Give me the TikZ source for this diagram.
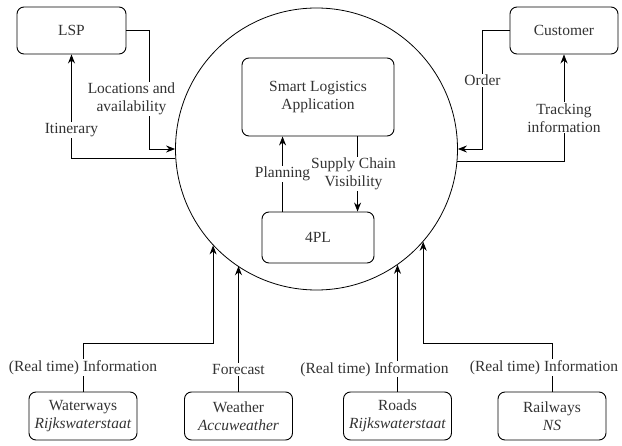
\documentclass[tikz,border=0pt]{standalone}
\usepackage{fontspec}
\setmainfont{Liberation Serif}
\newfontfamily\tnr{Liberation Serif}
\usetikzlibrary{arrows.meta,calc}
\begin{document}
\begin{tikzpicture}[x=1pt,y=-1pt,
  font=\tnr\fontsize{15.5}{18}\selectfont,
  box/.style={draw, rounded corners=7pt, line width=0.9pt, align=center, inner sep=0pt, text=black!80},
  smallbox/.style={box, minimum width=108pt, minimum height=48pt},
  lbl/.style={fill=white, inner sep=1pt, align=center, text=black!80},
  conn/.style={line width=0.9pt},
  arr/.style={conn, -{Stealth[length=9pt,width=7pt]}}]
\useasboundingbox (0,0) rectangle (622,446);

% context circle
\node[draw, circle, minimum size=282pt, inner sep=0pt, line width=0.8pt] (ctx) at (316.5,149) {};

% boxes
\node[box, minimum width=109pt, minimum height=47pt] (lsp) at (71.5,30.5) {LSP};
\node[box, minimum width=108pt, minimum height=47pt] (cust) at (564,30.5) {Customer};
\node[box, minimum width=152pt, minimum height=78pt] (sla) at (318,97) {Smart Logistics\\Application};
\node[box, minimum width=112pt, minimum height=51pt] (fpl) at (318,237.5) {4PL};

\node[smallbox] (ww) at (83,416) {Waterways\\\textit{Rijkswaterstaat}};
\node[smallbox] (we) at (238.5,416) {Weather\\\textit{Accuweather}};
\node[smallbox] (rd) at (397.5,416) {Roads\\\textit{Rijkswaterstaat}};
\node[smallbox] (rw) at (552,416) {Railways\\\textit{NS}};

% LSP connectors
\draw[arr] (lsp.east) -- ++(23,0) |- node[lbl,pos=0.29,xshift=-18pt]{Locations and\\availability} (ctx.west);
\draw[arr] (ctx.184.5) -| node[lbl,pos=0.637]{Itinerary} (lsp.south);

% Customer connectors
\draw[arr] (cust.west) -- ++(-27,0) |- node[lbl,pos=0.21]{Order} (ctx.east);
\draw[arr] (ctx.355.5) -| node[lbl,pos=0.703]{Tracking\\information} (cust.south);

% inner connectors
\coordinate (pA) at ($(fpl.north west)+(21,0)$);
\draw[arr] (pA) -- node[lbl]{Planning} (pA |- sla.south);
\coordinate (sA) at ($(sla.south west)+(116,0)$);
\draw[arr] (sA) -- node[lbl,xshift=-4pt]{Supply Chain\\Visibility} (sA |- fpl.north);

% bottom connectors
\draw[arr] (ww.north) -- node[lbl]{(Real time) Information} ++(0,-48) -| (ctx.223.4);
\draw[arr] (we.north) -- node[lbl,pos=0.176]{Forecast} (we.north |- ctx.236.4);
\draw[arr] (rd.north) -- node[lbl,pos=0.175,xshift=-23pt]{(Real time) Information} (rd.north |- ctx.305.06);
\draw[arr] (rw.north) -- node[lbl,xshift=-8pt]{(Real time) Information} ++(0,-48) -| (ctx.319.06);
\end{tikzpicture}
\end{document}
